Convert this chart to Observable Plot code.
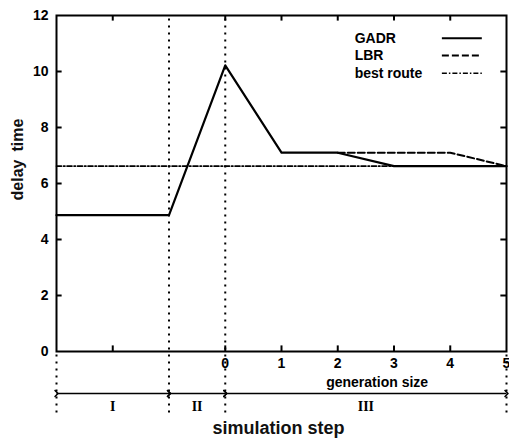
<!DOCTYPE html>
<html><head><meta charset="utf-8">
<script src="https://cdn.jsdelivr.net/npm/d3@7"></script>
<script src="https://cdn.jsdelivr.net/npm/@observablehq/plot@0.6"></script>
<style>body{margin:0;background:#fff}</style>
</head><body><div id="chart"></div>
<script>
const gadrX = [-3, -1, 0, 1, 2, 3, 5];
const gadrY = [4.87, 4.87, 10.22, 7.1, 7.1, 6.62, 6.62];
const lbrX = [2, 4, 5];
const lbrY = [7.1, 7.1, 6.62];
const bestX = [-3, 5];
const bestY = [6.62, 6.62];
const yTicks = [0, 2, 4, 6, 8, 10, 12];
const genTicks = [0, 1, 2, 3, 4, 5];
const xTickMarks = [-2, 0, 1, 2, 3, 4];
const phaseBounds = [-3, -1, 0, 5];
const phaseLabels = ["I", "II", "III"];
const legendNames = ["GADR", "LBR", "best route"];

const gadr = gadrX.map((x, i) => ({x, y: gadrY[i]}));
const lbr = lbrX.map((x, i) => ({x, y: lbrY[i]}));
const best = bestX.map((x, i) => ({x, y: bestY[i]}));
const phases = phaseLabels.map((t, i) => ({t, x1: phaseBounds[i], x2: phaseBounds[i + 1]}));

const font = "Liberation Sans, Arial, sans-serif";
const dashes = [null, "7,3", "5,2,1.5,2"];
const legendY = [11.19, 10.57, 9.94];

const plot = Plot.plot({
  width: 509, height: 442,
  marginLeft: 56, marginRight: 3, marginTop: 15, marginBottom: 91,
  style: {fontFamily: font, fontWeight: "bold", fontSize: "13px", background: "#fff"},
  x: {domain: [-3, 5], axis: null},
  y: {domain: [0, 12]},
  marks: [
    Plot.ruleX([-1, 0], {y1: -2.2, y2: 12, stroke: "#000", strokeWidth: 2, strokeDasharray: "2,5"}),
    Plot.ruleX([-3, 5], {y1: -2.2, y2: 0, stroke: "#000", strokeWidth: 2, strokeDasharray: "2,5"}),
    Plot.line(best, {x: "x", y: "y", stroke: "#000", strokeWidth: 1.6, strokeDasharray: dashes[2]}),
    Plot.line(lbr, {x: "x", y: "y", stroke: "#000", strokeWidth: 2, strokeDasharray: dashes[1]}),
    Plot.line(gadr, {x: "x", y: "y", stroke: "#000", strokeWidth: 2.2}),
    Plot.frame({stroke: "#000", strokeWidth: 2}),
    Plot.axisY({ticks: yTicks, tickSize: 0, tickPadding: 8, anchor: "left", label: null, fontSize: 14}),
    Plot.ruleY(yTicks.slice(1, -1), {x1: -3, x2: -2.9, stroke: "#000", strokeWidth: 2}),
    Plot.ruleY(yTicks.slice(1, -1), {x1: 4.9, x2: 5, stroke: "#000", strokeWidth: 2}),
    Plot.ruleX(xTickMarks, {y1: 0, y2: 0.2, stroke: "#000", strokeWidth: 2}),
    Plot.ruleX(xTickMarks, {y1: 11.8, y2: 12, stroke: "#000", strokeWidth: 2}),
    Plot.text(genTicks, {x: d => d, y: 0, dy: 12, text: d => String(d), fontSize: 14}),
    Plot.text(["generation size"], {x: 2.7, y: 0, dy: 31, text: d => d, fontSize: 14}),
    Plot.link(phases, {x1: "x1", x2: "x2", y1: -1.5, y2: -1.5, stroke: "#000", strokeWidth: 1.5, markerStart: "arrow", markerEnd: "arrow"}),
    Plot.text(phases, {x: d => (d.x1 + d.x2) / 2, y: -1.5, dy: 13, text: "t", fontFamily: "Liberation Serif, Times New Roman, serif", fontSize: 14}),
    Plot.text(["simulation step"], {frameAnchor: "bottom", dx: -3, dy: 82, text: d => d, fontSize: 18, fontWeight: "bold", fill: "#111"}),
    Plot.text(["delay time"], {frameAnchor: "left", textAnchor: "middle", dx: -39, dy: -24, rotate: -90, text: d => "delay\u2002time", fontSize: 16, fontWeight: "bold", fill: "#111"}),
    ...legendNames.map((n, i) => Plot.text([n], {x: 2.3, y: legendY[i], text: d => d, textAnchor: "start", fontSize: 14})),
    ...legendNames.map((n, i) => Plot.ruleY([legendY[i]], {x1: 3.86, x2: 4.57, stroke: "#000", strokeWidth: i === 2 ? 1.6 : 2, strokeDasharray: dashes[i]}))
  ]
});
document.getElementById("chart").append(plot);
</script></body></html>
